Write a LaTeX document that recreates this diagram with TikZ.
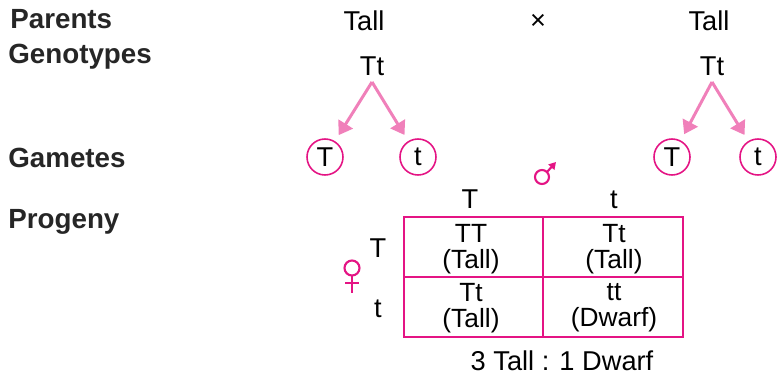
\documentclass[tikz,border=0pt]{standalone}
\usepackage{fontspec}
\setmainfont{Liberation Sans}
\usepackage{tikz}
\usetikzlibrary{arrows.meta, positioning, calc}

\definecolor{gridpink}{RGB}{228,20,132}
\definecolor{arrowpink}{RGB}{240,128,186}

\begin{document}
\begin{tikzpicture}[x=0.02cm, y=-0.02cm,
    txt/.style={inner sep=0pt, anchor=base, font=\fontsize{15.5}{18}\selectfont},
    head/.style={inner sep=0pt, anchor=base west, font=\fontsize{15.8}{18}\selectfont\bfseries, text=black!85},
    cell/.style={inner sep=0pt, align=center, font=\fontsize{15}{15}\selectfont},
    gamete/.style={circle, draw=gridpink, line width=0.9pt, minimum size=0.72cm, inner sep=0pt, font=\fontsize{15.5}{18}\selectfont},
    split/.style={draw=arrowpink, line width=1.7pt, -{Triangle[length=7.5pt, width=9.5pt]}, shorten >=4pt},
    square/.style={draw=gridpink, line width=1.1pt},
    sex/.style={draw=gridpink, line width=1.2pt}]
    \useasboundingbox (0,0) rectangle (777,376);

    \node [head] (parents) at (10,28) {Parents};
    \node [head] (genotypes) at (8,63) {Genotypes};
    \node [head] (gametes) at (8,167) {Gametes};
    \node [head] (progeny) at (8,228) {Progeny};

    \node [txt] (tallA) at (364,30) {Tall};
    \node [txt, anchor=center] (cross) at (538,22) {×};
    \node [txt] (tallB) at (709,30) {Tall};
    \node [txt] (ttA) at (372,75) {Tt};
    \node [txt] (ttB) at (712,75) {Tt};

    \coordinate (apexA) at (372,82);
    \coordinate (apexB) at (712,82);
    \node [gamete] (gamAT) at (325,157) {T};
    \node [gamete] (gamAt) at (418,157) {t};
    \node [gamete] (gamBT) at (672,157) {T};
    \node [gamete] (gamBt) at (758,157) {t};
    \draw [split] (apexA) -- (gamAT);
    \draw [split] (apexA) -- (gamAt);
    \draw [split] (apexB) -- (gamBT);
    \draw [split] (apexB) -- (gamBt);

    \draw [sex] (542,177) circle (7);
    \draw [sex, -{Triangle[length=4pt, width=4.5pt]}] (547,172) -- (556,162);
    \draw [sex] (352,268) circle (7.5);
    \draw [sex] (352,275.5) -- (352,293) (345,283) -- (359,283);

    \node [txt] (colT) at (470,208) {T};
    \node [txt] (colt) at (614,208) {t};
    \node [txt] (rowT) at (378,257) {T};
    \node [txt] (rowt) at (378,317) {t};

    \draw [square] (404,217) rectangle (683,337);
    \draw [square] (543,217) -- (543,337) (404,277) -- (683,277);

    \node [cell] (cellTT) at (471,249) {TT\\(Tall)};
    \node [cell] (cellTt) at (614,249) {Tt\\(Tall)};
    \node [cell] (celltT) at (471,308) {Tt\\(Tall)};
    \node [cell] (celltt) at (614,308) {tt\\(Dwarf)};

    \node [txt] (ratio) at (562,370) {3 Tall : 1 Dwarf};
\end{tikzpicture}
\end{document}
